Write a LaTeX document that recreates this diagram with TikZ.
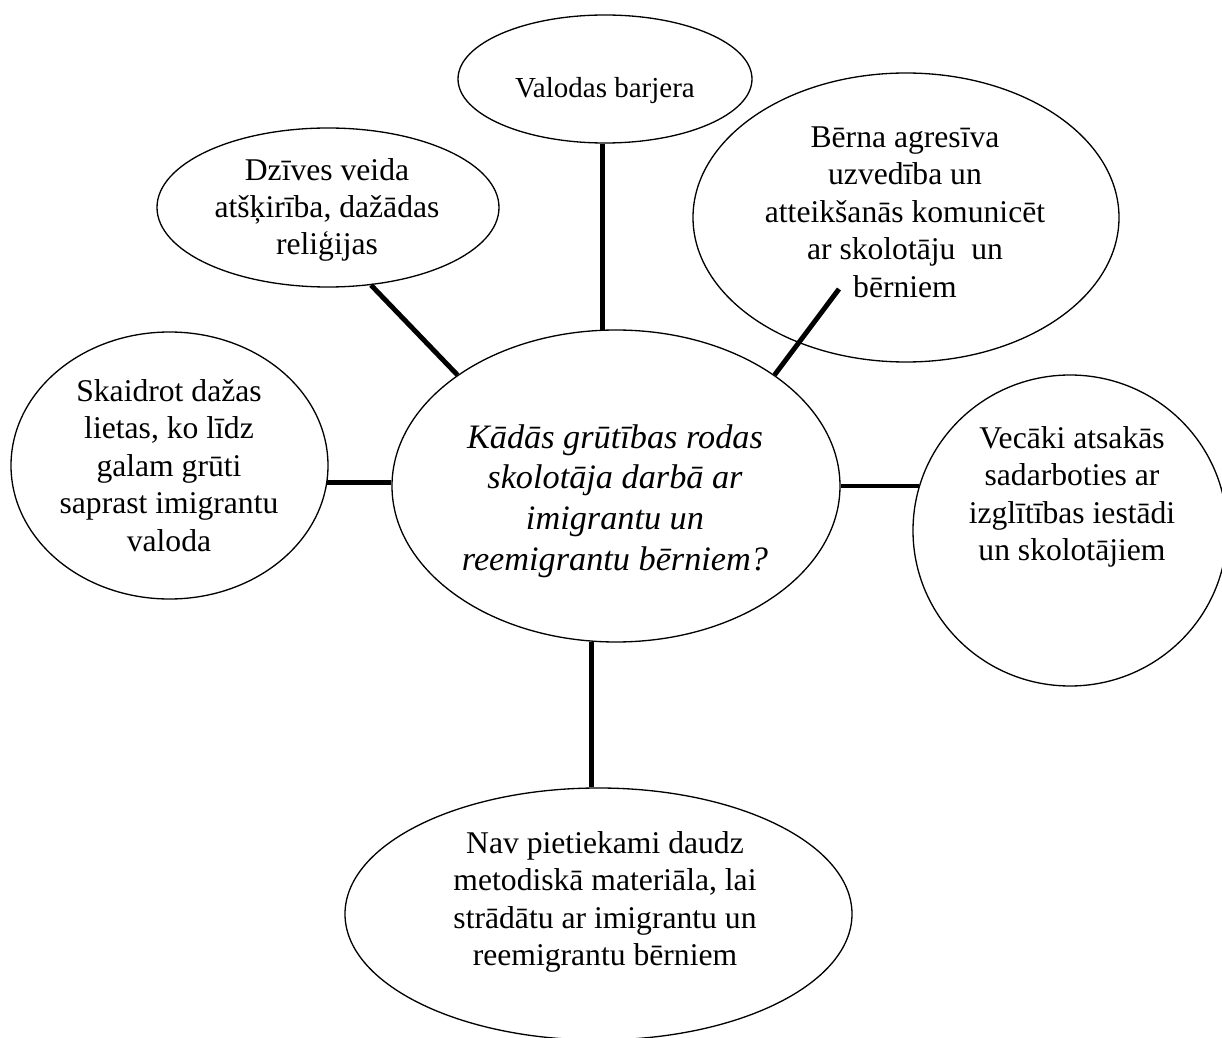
\documentclass[tikz,border=0pt]{standalone}
\usepackage{fontspec}
\setmainfont{Liberation Serif}
\usepackage{tikz}
\usetikzlibrary{shapes.geometric}

\begin{document}
\begin{tikzpicture}[
    blob/.style={draw, ellipse, line width=0.75pt, inner sep=0pt},
    txt/.style={align=center, font=\fontsize{18}{21.3}\selectfont},
    link/.style={line width=2.8pt}]
  \useasboundingbox (0,0) rectangle (24.44,-20.76);
  \node[blob, minimum width=8.96cm, minimum height=6.24cm] (centre) at (12.32,-9.72) {};
  \node[blob, minimum width=5.88cm, minimum height=2.56cm] (valodas) at (12.10,-1.58) {};
  \node[blob, minimum width=6.84cm, minimum height=3.18cm] (dzives) at (6.56,-4.15) {};
  \node[blob, minimum width=8.52cm, minimum height=5.78cm] (berna) at (18.12,-4.35) {};
  \node[blob, minimum width=6.34cm, minimum height=5.34cm] (skaidrot) at (3.39,-9.31) {};
  \node[blob, minimum width=6.28cm, minimum height=6.22cm] (vecaki) at (21.40,-10.61) {};
  \node[blob, minimum width=10.14cm, minimum height=5.04cm] (nav) at (11.97,-18.28) {};
  \coordinate (bernaend) at (16.78,-5.78);

  \node[txt, font=\fontsize{19.5}{23.2}\selectfont\itshape] (centret) at (12.30,-10.02) %
    {Kādās grūtības rodas\\skolotāja darbā ar\\imigrantu un\\reemigrantu bērniem?};
  \node[txt, font=\fontsize{16.5}{20}\selectfont] (valodast) at (12.10,-1.82) {Valodas barjera};
  \node[txt] (dzivest) at (6.54,-4.20) {Dzīves veida\\atšķirība, dažādas\\reliģijas};
  \node[txt] (bernat) at (18.10,-4.24) %
    {Bērna agresīva\\uzvedība un\\atteikšanās komunicēt\\ar skolotāju\ \ un\\bērniem};
  \node[txt] (skaidrott) at (3.38,-9.31) %
    {Skaidrot dažas\\lietas, ko līdz\\galam grūti\\saprast imigrantu\\valoda};
  \node[txt] (vecakit) at (21.44,-9.94) %
    {Vecāki atsakās\\sadarboties ar\\izglītības iestādi\\un skolotājiem};
  \node[txt] (navt) at (12.10,-18.04) %
    {Nav pietiekami daudz\\metodiskā materiāla, lai\\strādātu ar imigrantu un\\reemigrantu bērniem};

  \draw[link] (centre.95.5) -- (centre.95.5 |- valodas.south);
  \draw[link] (centre.145) -- (dzives.-61);
  \draw[link] (centre.35) -- (bernaend);
  \draw[link] (centre.179) -- (centre.179 -| skaidrot.-7);
  \draw[link] (centre.0.5) -- (centre.0.5 -| vecaki.163);
  \draw[link] (centre.261.5) -- (centre.261.5 |- nav.north);
\end{tikzpicture}
\end{document}
